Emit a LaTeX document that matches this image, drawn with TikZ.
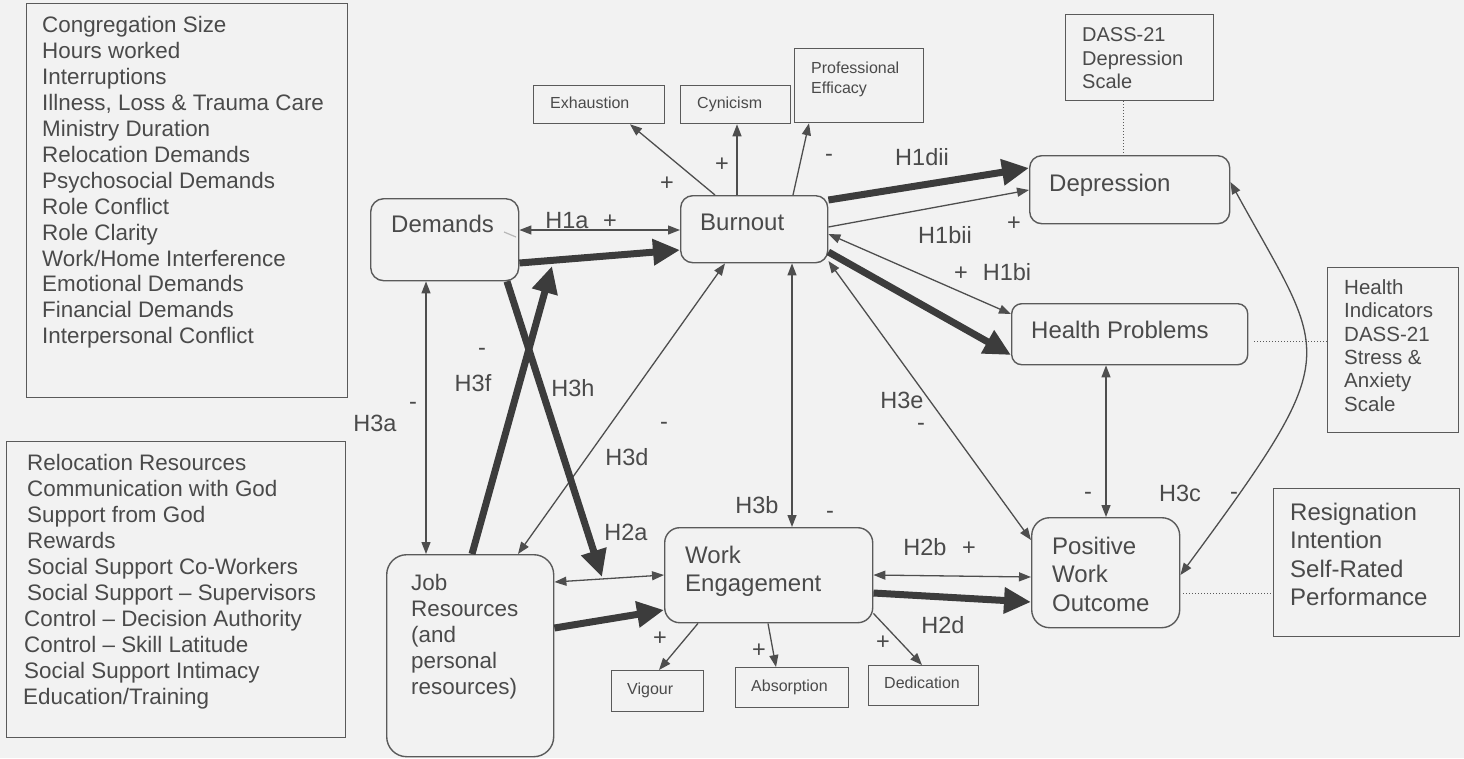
\documentclass[tikz,border=0pt]{standalone}
\usepackage{fontspec}
\setmainfont{Liberation Sans}
\usetikzlibrary{arrows.meta}
\definecolor{bg}{HTML}{F2F2F2}
\definecolor{ln}{HTML}{4E4E4E}
\definecolor{tk}{HTML}{3C3C3C}
\definecolor{tx}{HTML}{4A4A4A}
\definecolor{bd}{HTML}{5A5A5A}
\definecolor{faint}{HTML}{B8B8B8}
\newcommand\fsL{\fontsize{22.4}{25.9}\selectfont}
\newcommand\fsM{\fontsize{24}{28.3}\selectfont}
\newcommand\fsJ{\fontsize{22.4}{26}\selectfont}
\newcommand\fsS{\fontsize{16}{20}\selectfont}
\newcommand\fsD{\fontsize{20}{23.5}\selectfont}
\newcommand\fsH{\fontsize{20.5}{23.4}\selectfont}
\begin{document}
\begin{tikzpicture}[x=1pt,y=-1pt,
  sq/.style={draw=bd, line width=1.3pt, inner sep=0pt, anchor=north west},
  rb/.style={draw=bd, line width=1.4pt, rounded corners=#1, inner sep=0pt, anchor=north west},
  mt/.style={text=tx, inner sep=0pt},
  lab/.style={text=tx, inner sep=0pt, anchor=base, yshift=-8.4pt, font=\fontsize{23.5}{26}\selectfont},
  pl/.style={text=tx, inner sep=0pt, anchor=base, yshift=-8.1pt, font=\fontsize{23.5}{26}\selectfont},
  mn/.style={text=tx, inner sep=0pt, anchor=base, yshift=-6.3pt, font=\fontsize{23.5}{26}\selectfont},
  thin/.style={draw=ln, line width=1.3pt},
  ar/.style={thin, -{Triangle[length=12pt,width=9pt]}},
  bar/.style={thin, {Triangle[length=12pt,width=9pt]}-{Triangle[length=12pt,width=9pt]}},
  thk/.style={draw=tk, line width=7pt, -{Triangle[length=27pt,width=25pt]}},
  dots/.style={draw=bd, line width=1pt, dotted},
]
\fill[bg] (0,0) rectangle (1464,758);
\useasboundingbox (0,0) rectangle (1464,758);

% ---------- boxes ----------
\node[sq, minimum width=321pt, minimum height=394pt] (dlist) at (26,3) {};
\node[sq, minimum width=339pt, minimum height=296pt] (rlist) at (6,441) {};
\node[rb=13pt, minimum width=148pt, minimum height=82pt] (dem) at (370,198) {};
\node[rb=12pt, minimum width=147pt, minimum height=67pt] (burn) at (680,195) {};
\node[sq, minimum width=131pt, minimum height=38pt] (exh) at (533,85) {};
\node[sq, minimum width=110pt, minimum height=38pt] (cyn) at (680,85) {};
\node[sq, minimum width=129pt, minimum height=74pt] (prof) at (794,48) {};
\node[sq, minimum width=148pt, minimum height=86pt] (dass) at (1065,14) {};
\node[rb=12pt, minimum width=200pt, minimum height=68pt] (depr) at (1029,155) {};
\node[rb=10pt, minimum width=236pt, minimum height=61pt] (hp) at (1011,303) {};
\node[sq, minimum width=131pt, minimum height=165pt] (hind) at (1327,267) {};
\node[rb=18pt, minimum width=148pt, minimum height=110pt] (pwo) at (1031,517) {};
\node[sq, minimum width=186pt, minimum height=148pt] (resig) at (1273,488) {};
\node[rb=15pt, minimum width=208pt, minimum height=95pt] (we) at (664,527) {};
\node[rb=20pt, minimum width=167pt, minimum height=202pt] (jr) at (386,554) {};
\node[sq, minimum width=92pt, minimum height=41pt] (vig) at (611,670) {};
\node[sq, minimum width=113pt, minimum height=40pt] (abs) at (735,667) {};
\node[sq, minimum width=110pt, minimum height=40pt] (ded) at (868,665) {};

% ---------- box texts ----------
\node[mt, font=\fsL, anchor=north west, align=left] (dlistT) at (42,16.5)
  {Congregation Size\\Hours worked\\Interruptions\\Illness, Loss \& Trauma Care\\Ministry Duration\\Relocation Demands\\Psychosocial Demands\\Role Conflict\\Role Clarity\\Work/Home Interference\\Emotional Demands\\Financial Demands\\Interpersonal Conflict};
\node[mt, font=\fsL, anchor=north west, align=left] (rlistT) at (27,454.5)
  {Relocation Resources\\Communication with God\\Support from God\\Rewards\\Social Support Co-Workers\\Social Support -- Supervisors\\\hspace*{-3pt}Control -- Decision Authority\\\hspace*{-3pt}Control -- Skill Latitude\\\hspace*{-3pt}Social Support Intimacy\\\hspace*{-4pt}Education/Training};
\node[mt, font=\fsM, anchor=base west] (demT) at (391,232.4) {Demands};
\node[mt, font=\fsM, anchor=base west] (burnT) at (700,230.4) {Burnout};
\node[mt, font=\fsS, anchor=base west] (exhT) at (550,108.6) {Exhaustion};
\node[mt, font=\fsS, anchor=base west] (cynT) at (697,108.6) {Cynicism};
\node[mt, font=\fsS, anchor=north west, align=left] (profT) at (811,61.4) {Professional\\Efficacy};
\node[mt, font=\fsD, anchor=north west, align=left] (dassT) at (1082,27.4) {DASS-21\\Depression\\Scale};
\node[mt, font=\fsM, anchor=base west] (deprT) at (1049,191.4) {Depression};
\node[mt, font=\fsM, anchor=base west] (hpT) at (1031,338.4) {Health Problems};
\node[mt, font=\fsH, anchor=north west, align=left] (hindT) at (1344,279.2) {Health\\Indicators\\DASS-21\\Stress \&\\Anxiety\\Scale};
\node[mt, font=\fsM, anchor=north west, align=left] (pwoT) at (1052,536.9) {Positive\\Work\\Outcome};
\node[mt, font=\fsM, anchor=north west, align=left] (resigT) at (1290,502.9) {Resignation\\Intention\\Self-Rated\\Performance};
\node[mt, font=\fsM, anchor=north west, align=left] (weT) at (685,545.9) {Work\\Engagement};
\node[mt, font=\fsJ, anchor=north west, align=left] (jrT) at (411,574.5) {Job\\Resources\\(and\\personal\\resources)};
\node[mt, font=\fsS, anchor=base west] (vigT) at (627,694.6) {Vigour};
\node[mt, font=\fsS, anchor=base west] (absT) at (751,691.6) {Absorption};
\node[mt, font=\fsS, anchor=base west] (dedT) at (884,688.6) {Dedication};

% ---------- free ends ----------
\coordinate (h3fend) at (552,266);
\coordinate (h3hend) at (602,577);

% ---------- connectors ----------
\draw[bar] ([yshift=-32pt]dem.north east) -- ([yshift=-35pt]burn.north west);
\draw[thk] ([yshift=-65pt]dem.north east) -- ([yshift=-55pt]burn.north west);
\draw[ar] ([xshift=35pt]burn.north west) -- ([xshift=97pt]exh.south west);
\draw[ar] ([xshift=57pt]burn.north west) -- ([xshift=57pt]cyn.south west);
\draw[ar] ([xshift=113pt]burn.north west) -- ([xshift=15pt]prof.south west);
\draw[thk] ([yshift=-5pt]burn.north east) -- ([yshift=-13pt]depr.north west);
\draw[ar] ([yshift=-32pt]burn.north east) -- ([yshift=-35pt]depr.north west);
\draw[bar] ([yshift=-39pt]burn.north east) -- ([yshift=-11pt]hp.north west);
\draw[thk] ([yshift=-57pt]burn.north east) -- ([yshift=-52pt]hp.north west);
\draw[bar] ([yshift=-66pt]burn.north east) -- ([yshift=-23pt]pwo.north west);
\draw[bar] ([xshift=112pt]burn.south west) -- ([xshift=128pt]we.north west);
\draw[bar] ([xshift=45pt]burn.south west) -- ([xshift=132pt]jr.north west);
\draw[bar] ([xshift=56pt]dem.south west) -- ([xshift=40pt]jr.north west);
\draw[thk] ([xshift=86pt]jr.north west) -- (h3fend);
\draw[thk] ([xshift=137pt]dem.south west) -- (h3hend);
\draw[bar] ([yshift=-28pt]jr.north east) -- ([yshift=-48pt]we.north west);
\draw[thk] ([yshift=-74pt]jr.north east) -- ([yshift=-83pt]we.north west);
\draw[ar] ([xshift=34pt]we.south west) -- ([xshift=48pt]vig.north west);
\draw[ar] ([xshift=104pt]we.south west) -- ([xshift=41pt]abs.north west);
\draw[ar] ([yshift=10pt]we.south east) -- ([xshift=54pt]ded.north west);
\draw[bar] ([yshift=-48pt]we.north east) -- ([yshift=-60pt]pwo.north west);
\draw[thk] ([yshift=-66pt]we.north east) -- ([yshift=-85pt]pwo.north west);
\draw[bar] ([xshift=95pt]hp.south west) -- ([xshift=75pt]pwo.north west);
\draw[bar] ([yshift=-58pt]pwo.north east) .. controls (1348,348) and (1328,360) .. ([yshift=-27pt]depr.north east);
\draw[dots] ([xshift=58pt]dass.south west) -- ([xshift=94pt]depr.north west);
\draw[dots] ([xshift=6pt,yshift=-38pt]hp.north east) -- ([yshift=-74pt]hind.north west);
\draw[dots] ([xshift=3pt,yshift=-76pt]pwo.north east) -- ([yshift=-105pt]resig.north west);
\draw[draw=faint, line width=1.2pt] (504,232) -- (516,237);

% ---------- labels ----------
\node[lab] (lH1a) at (567,220) {H1a};
\node[pl] (pH1a) at (610,220) {+};
\node[pl] (pExh) at (667,182) {+};
\node[pl] (pCyn) at (722,163) {+};
\node[mn] (mPro) at (829,155) {-};
\node[lab] (lH1dii) at (922,157) {H1dii};
\node[pl] (pDep) at (1014,222) {+};
\node[lab] (lH1bii) at (945,235) {H1bii};
\node[pl] (pH1bi) at (961,272) {+};
\node[lab] (lH1bi) at (1007,272) {H1bi};
\node[lab] (lH3a) at (375,423) {H3a};
\node[mn] (mH3a) at (413,403) {-};
\node[mn] (mH3f) at (482,349) {-};
\node[lab] (lH3f) at (473,383) {H3f};
\node[lab] (lH3h) at (573,388) {H3h};
\node[mn] (mH3d) at (664,423) {-};
\node[lab] (lH3d) at (627,457) {H3d};
\node[lab] (lH3b) at (757,505) {H3b};
\node[mn] (mH3b) at (830,512) {-};
\node[lab] (lH2a) at (626,532) {H2a};
\node[lab] (lH3e) at (902,400) {H3e};
\node[mn] (mH3e) at (921,424) {-};
\node[mn] (mHP) at (1088,493) {-};
\node[lab] (lH3c) at (1180,493) {H3c};
\node[mn] (mH3c) at (1234,493) {-};
\node[lab] (lH2b) at (925,547) {H2b};
\node[pl] (pH2b) at (969,547) {+};
\node[lab] (lH2d) at (943,625) {H2d};
\node[pl] (pVig) at (660,637) {+};
\node[pl] (pAbs) at (759,649) {+};
\node[pl] (pDed) at (883,641) {+};
\end{tikzpicture}
\end{document}
